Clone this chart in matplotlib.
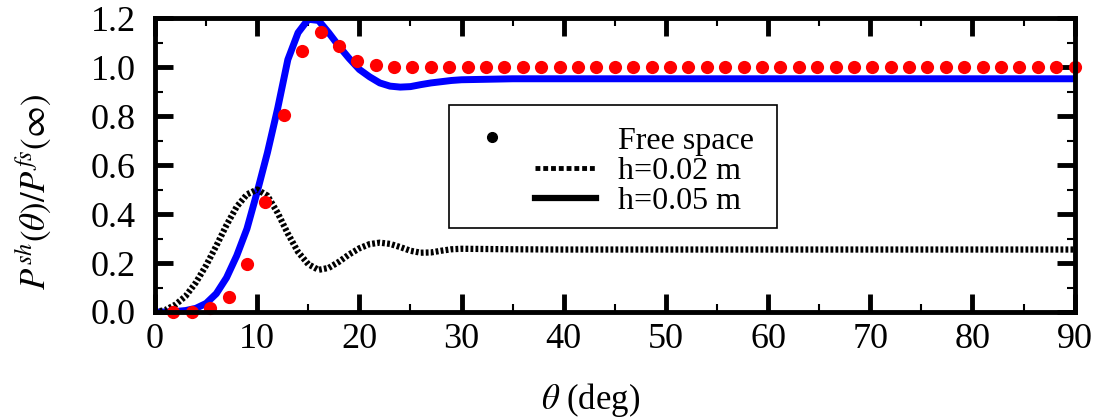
import numpy as np
import matplotlib
matplotlib.use("Agg")
import matplotlib.pyplot as plt
from matplotlib.legend_handler import HandlerLine2DCompound
from matplotlib.lines import Line2D
from matplotlib.patches import Rectangle
from matplotlib.ticker import MultipleLocator, FormatStrFormatter

# free space (red dots), every 1.8 deg
theta_fs = [1.8 * k for k in range(1, 51)]
p_fs = [0.0, 0.0, 0.016, 0.062, 0.195, 0.45, 0.804, 1.067, 1.142, 1.087,
        1.024, 1.008] + [1.0] * 38

# shielded curves
theta_h = list(range(0, 31)) + [35, 40, 45, 50, 55, 60, 65, 70, 75, 80, 85, 90]
p_h002 = [0.0, 0.008, 0.03, 0.065, 0.12, 0.19, 0.27, 0.355, 0.43, 0.48,
          0.5, 0.475, 0.405, 0.32, 0.245, 0.195, 0.172, 0.18, 0.205, 0.235,
          0.26, 0.277, 0.283, 0.278, 0.265, 0.25, 0.242, 0.243, 0.25, 0.256,
          0.258] + [0.256, 0.255, 0.255, 0.255, 0.255, 0.255, 0.255, 0.255,
                    0.255, 0.255, 0.255, 0.255]
p_h005 = [0.0, 0.0, 0.002, 0.006, 0.015, 0.035, 0.075, 0.14, 0.23, 0.34,
          0.49, 0.65, 0.83, 1.03, 1.14, 1.195, 1.19, 1.14, 1.085, 1.035,
          0.99, 0.96, 0.935, 0.922, 0.918, 0.92, 0.928, 0.935, 0.94, 0.945,
          0.948] + [0.952] * 12

labels = ['Free space', 'h=0.02 m', 'h=0.05 m']

plt.rcParams['font.family'] = ['Liberation Serif', 'DejaVu Serif']
plt.rcParams['mathtext.fontset'] = 'stix'


class DotHandler(HandlerLine2DCompound):
    # dot sits left of the line area, like the original key
    def get_xdata(self, legend, xdescent, ydescent, width, height, fontsize):
        xd, xm = super().get_xdata(legend, xdescent, ydescent, width, height, fontsize)
        return xd, [xm[0] - 1.2 * width]


fig = plt.figure(figsize=(11.04, 4.17), dpi=100)
ax = fig.add_axes([0.1404, 0.2518, 0.833, 0.705])

ax.plot(theta_h, p_h005, color='#0000ff', lw=5, solid_joinstyle='round')
ax.plot(theta_h, p_h002, color='black', lw=4.5, linestyle=(0, (0.45, 0.35)))
ax.plot(theta_fs, p_fs, 'o', color='red', ms=9.5, mec='none', clip_on=False)

ax.set_xlim(0, 90)
ax.set_ylim(0, 1.2)
ax.xaxis.set_major_locator(MultipleLocator(10))
ax.xaxis.set_minor_locator(MultipleLocator(5))
ax.yaxis.set_major_locator(MultipleLocator(0.2))
ax.yaxis.set_minor_locator(MultipleLocator(0.1))
ax.yaxis.set_major_formatter(FormatStrFormatter('%.1f'))

ax.tick_params(which='both', direction='in', top=True, right=True)
ax.tick_params(which='major', length=13, width=3.5, labelsize=26)
ax.tick_params(axis='y', which='major', pad=14)
ax.tick_params(axis='x', which='major', pad=8)
ax.tick_params(which='minor', length=6, width=1.5)
for s in ax.spines.values():
    s.set_linewidth(3.5)

ax.set_xlabel(r'$\theta$ (deg)', fontsize=25)
ax.xaxis.set_label_coords(0.474, -0.235)
ax.set_ylabel(r'$P^{sh}(\theta)/P^{fs}(\infty)$', fontsize=25)
ax.yaxis.label.set_verticalalignment('center')
ax.yaxis.set_label_coords(-0.1326, 0.41)

# key: frame box plus entries on its right side
ax.add_patch(Rectangle((0.3196, 0.2857), 0.3565, 0.418, transform=ax.transAxes,
                       fill=True, facecolor='white', edgecolor='black', lw=1.2,
                       zorder=4))
handles = [Line2D([], [], marker='o', color='black', ls='none', ms=7),
           Line2D([], [], color='black', lw=3.5, linestyle=(0, (1.0, 0.6))),
           Line2D([], [], color='black', lw=4.5)]
leg = ax.legend(handles, labels, loc='upper left', bbox_to_anchor=(0.413, 0.632),
                fontsize=23, frameon=False, handlelength=1.9,
                handletextpad=0.7, labelspacing=0.03, borderpad=0,
                borderaxespad=0, numpoints=1,
                handler_map={handles[0]: DotHandler()})
leg.set_zorder(5)

fig.savefig('out.png', dpi=100)
